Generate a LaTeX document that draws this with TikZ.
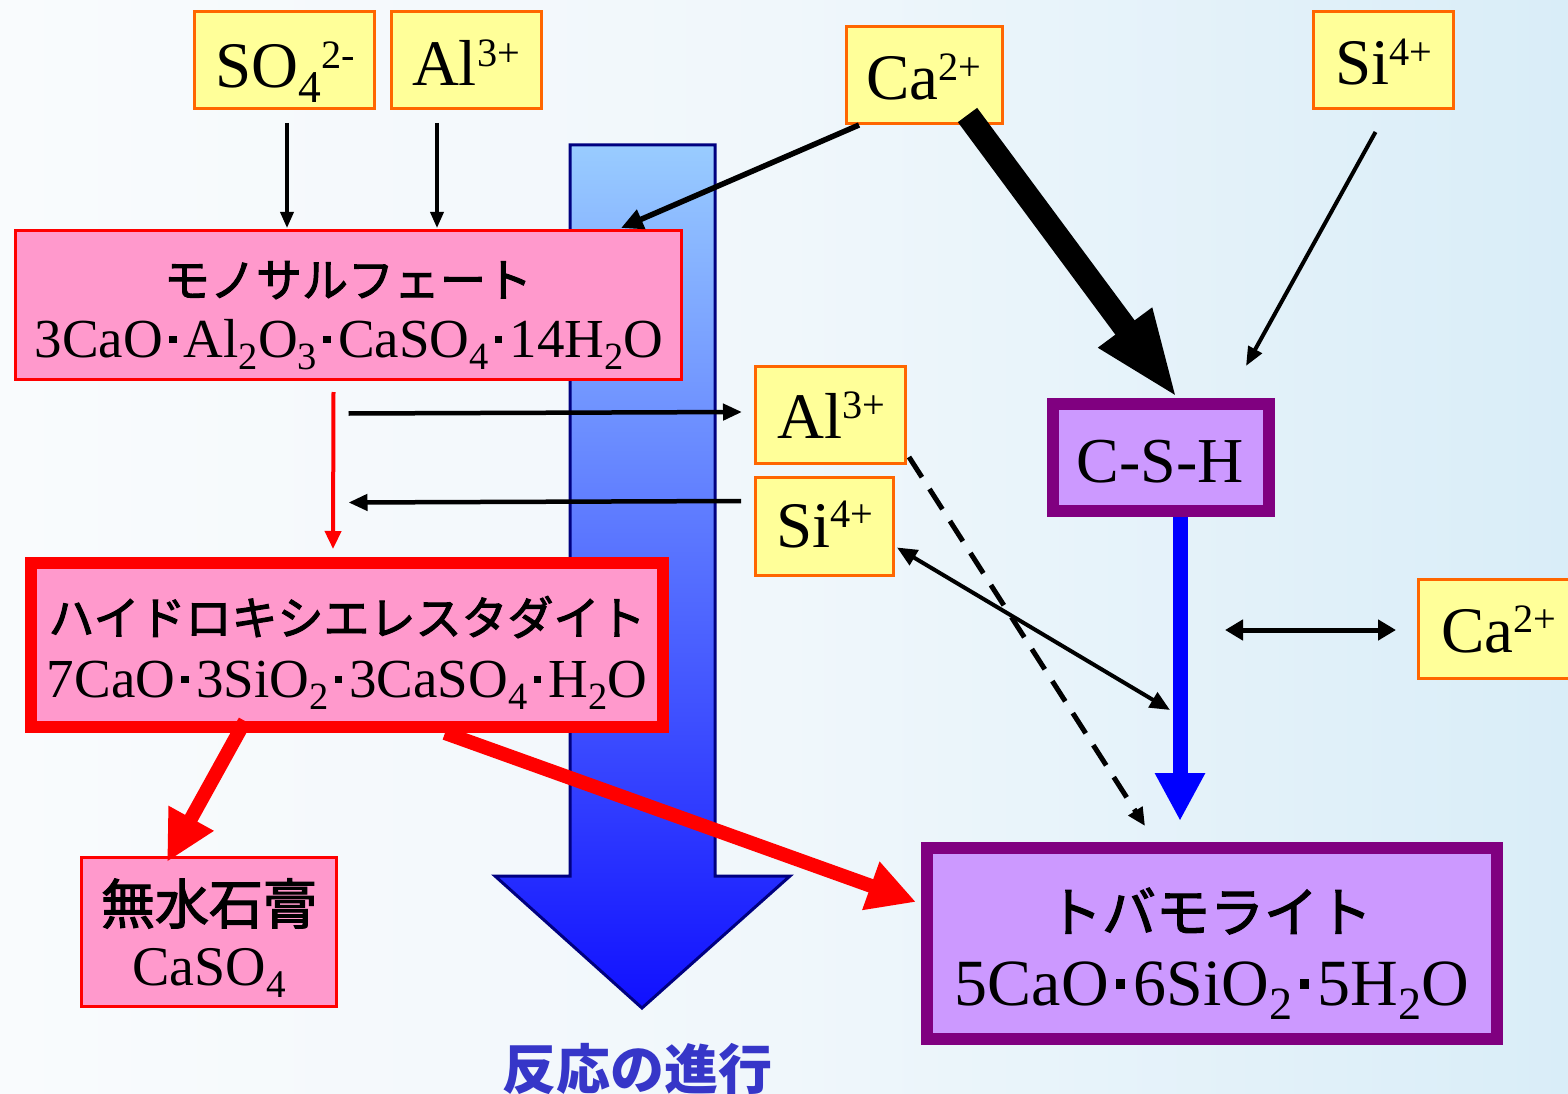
\documentclass[tikz,border=0pt]{standalone}
\usepackage{fontspec}
\usepackage{graphicx}
\setmainfont{Liberation Serif}
\newfontfamily\jp[FakeBold=2.2]{Noto Sans CJK JP}
\newfontfamily\jpb{Noto Sans CJK JP}
\usetikzlibrary{arrows.meta,calc}
\definecolor{ionfill}{HTML}{FFFF99}
\definecolor{ionline}{HTML}{FF6600}
\definecolor{pinkfill}{HTML}{FF99CC}
\definecolor{purpline}{HTML}{800080}
\definecolor{purpfill}{HTML}{CC99FF}
\definecolor{navyline}{HTML}{000080}
\definecolor{lblue}{HTML}{99CCFF}
\definecolor{dblue}{HTML}{1010FF}
\definecolor{labelblue}{HTML}{3636C8}
\definecolor{bgleft}{HTML}{F9FBFD}
\definecolor{bgmid}{HTML}{F0F7FB}
\definecolor{bgright}{HTML}{D9EDF8}
\newcommand\dt{\hspace{0.11em}\rule[0.25em]{0.14em}{0.14em}\hspace{0.13em}}
\newcommand\sbs[1]{\raisebox{-0.22em}{\scalebox{0.7}{#1}}}
\newcommand\sps[1]{\raisebox{0.3em}{\scalebox{0.62}{#1}}}
\begin{document}
\begin{tikzpicture}[x=1pt,y=-1pt,
  ionbox/.style={draw=ionline,fill=ionfill,line width=3pt,inner sep=0pt},
  pinkbox/.style={draw=red,fill=pinkfill,inner sep=0pt},
  purpbox/.style={draw=purpline,fill=purpfill,line width=12pt,inner sep=0pt},
  txt/.style={inner sep=0pt,anchor=base},
  iontxt/.style={txt,font=\fontsize{65}{70}\selectfont},
  thinarr/.style={line width=3.5pt,-{Triangle[length=16pt,width=13pt]}},
  medarr/.style={line width=4.5pt,-{Triangle[length=19pt,width=16pt]}},
]
% background
\path[left color=bgleft,right color=bgright,middle color=bgmid] (0,0) rectangle (1568,1094);
\useasboundingbox (0,0) rectangle (1568,1094);

% big reaction arrow
\draw[line width=3pt,draw=navyline,top color=lblue,bottom color=dblue,line join=miter]
  (570,145) -- (715,145) -- (715,876) -- (790,876) -- (642,1008) -- (495,876) -- (570,876) -- cycle;
\node[txt,font=\jpb\bfseries\fontsize{54}{60}\selectfont,text=labelblue] (lbl) at (637,1089) {反応の進行};

% ion boxes
\node[ionbox,minimum width=180pt,minimum height=97pt] (so4) at (284.5,60) {};
\node[iontxt] (so4t) at (285,88) {SO\sbs{4}\sps{2-}};
\node[ionbox,minimum width=150pt,minimum height=97pt] (al1) at (466.5,60) {};
\node[iontxt] (al1t) at (466,86) {Al\sps{3+}};
\node[ionbox,minimum width=156pt,minimum height=97pt] (ca1) at (924.5,75) {};
\node[iontxt] (ca1t) at (924,100) {Ca\sps{2+}};
\node[ionbox,minimum width=140pt,minimum height=97pt] (si1) at (1383.5,60) {};
\node[iontxt] (si1t) at (1384,85) {Si\sps{4+}};
\node[ionbox,minimum width=150pt,minimum height=97pt] (al2) at (830.5,415) {};
\node[iontxt] (al2t) at (831,438) {Al\sps{3+}};
\node[ionbox,minimum width=138pt,minimum height=98pt] (si2) at (824.5,526.5) {};
\node[iontxt] (si2t) at (825,547) {Si\sps{4+}};
\node[ionbox,minimum width=155pt,minimum height=99pt] (ca3) at (1496,629) {};
\node[iontxt] (ca3t) at (1499,652) {Ca\sps{2+}};

% compound boxes
\node[pinkbox,line width=3pt,minimum width=666pt,minimum height=149pt] (mono) at (348.5,305) {};
\node[txt,font=\jp\fontsize{46}{50}\selectfont] (monoj) at (348,297) {モノサルフェート};
\node[txt,font=\fontsize{55}{60}\selectfont] (monof) at (349,357) {3CaO\dt Al\sbs{2}O\sbs{3}\dt CaSO\sbs{4}\dt 14H\sbs{2}O};

\node[pinkbox,line width=12pt,minimum width=632pt,minimum height=164pt] (hyd) at (347,645) {};
\node[txt,font=\jp\fontsize{46}{50}\selectfont] (hydj) at (347,635) {ハイドロキシエレスタダイト};
\node[txt,font=\fontsize{55}{60}\selectfont] (hydf) at (347,697) {7CaO\dt 3SiO\sbs{2}\dt 3CaSO\sbs{4}\dt H\sbs{2}O};

\node[pinkbox,line width=3pt,minimum width=255pt,minimum height=149pt] (mus) at (209,932) {};
\node[txt,font=\jp\fontsize{54}{60}\selectfont] (musj) at (209,924) {無水石膏};
\node[txt,font=\fontsize{56}{60}\selectfont] (musf) at (209,985) {CaSO\sbs{4}};

\node[purpbox,minimum width=216pt,minimum height=107pt] (csh) at (1161,457.5) {};
\node[txt,font=\fontsize{64}{70}\selectfont] (csht) at (1160,482) {C-S-H};

\node[purpbox,minimum width=570pt,minimum height=191pt] (tob) at (1212,943.5) {};
\node[txt,font=\jp\fontsize{54}{60}\selectfont] (tobj) at (1210,932) {トバモライト};
\node[txt,font=\fontsize{66}{70}\selectfont] (tobf) at (1212,1005) {5CaO\dt 6SiO\sbs{2}\dt 5H\sbs{2}O};

% free ends
\coordinate (sihit) at (1170,710);
\coordinate (caleft) at (1225,630);

% connectors
\draw[thinarr] ($(so4.south)+(2.5,13)$) -- ($(mono.north)+(-61.5,-1)$);
\draw[thinarr] ($(al1.south)+(-29.5,13)$) -- ($(mono.north)+(88.5,-1)$);
\draw[line width=5.5pt,-{Triangle[length=22pt,width=20pt]}] ($(ca1.south west)+(14,0)$) -- ($(mono.north east)+(-62,-1)$);
\draw[line width=24pt,-{Triangle[length=89pt,width=60pt]}] ($(ca1.south)+(43,-10)$) -- ($(csh.north)+(17,1)$);
\draw[line width=4pt,-{Triangle[length=19pt,width=15pt]}] ($(si1.south)+(-8,22)$) -- ($(csh.north east)+(-29,-32)$);
\draw[medarr] ($(mono.south)+(0,32.5)$) -- ($(al2.west)+(-12,-3)$);
\draw[medarr] ($(si2.west)+(-13,-25.5)$) -- ($(mono.south)+(0,121.5)$);
\draw[red,line width=4pt,-{Triangle[length=18pt,width=16pt]}] ($(mono.south)+(-15,11)$) -- ($(hyd.north)+(-14,-8)$);
\draw[red,line width=14pt,-{Triangle[length=50pt,width=48pt]}] ($(hyd.south)+(-102,-12)$) -- ($(mus.north)+(-42,6)$);
\draw[red,line width=14pt,-{Triangle[length=48pt,width=48pt]}] ($(hyd.south)+(98,0)$) -- ($(tob.west)+(-5,-41.5)$);
\draw[line width=5pt,dash pattern=on 24pt off 14pt,-{Triangle[length=18pt,width=16pt]}] ($(al2.south east)+(2,-8)$) -- ($(tob.north)+(-67,-16)$);
\draw[line width=4pt,{Triangle[length=20pt,width=17pt]}-{Triangle[length=20pt,width=17pt]}] ($(si2.east)+(2,21)$) -- (sihit);
\draw[blue,line width=15pt,-{Triangle[length=48pt,width=47pt]}] ($(csh.south)+(19,0)$) -- ($(tob.north)+(-32,-21)$);
\draw[line width=5pt,{Triangle[length=18pt,width=20pt]}-{Triangle[length=18pt,width=20pt]}] (caleft) -- ($(ca3.west)+(-21,1)$);
\end{tikzpicture}
\end{document}
